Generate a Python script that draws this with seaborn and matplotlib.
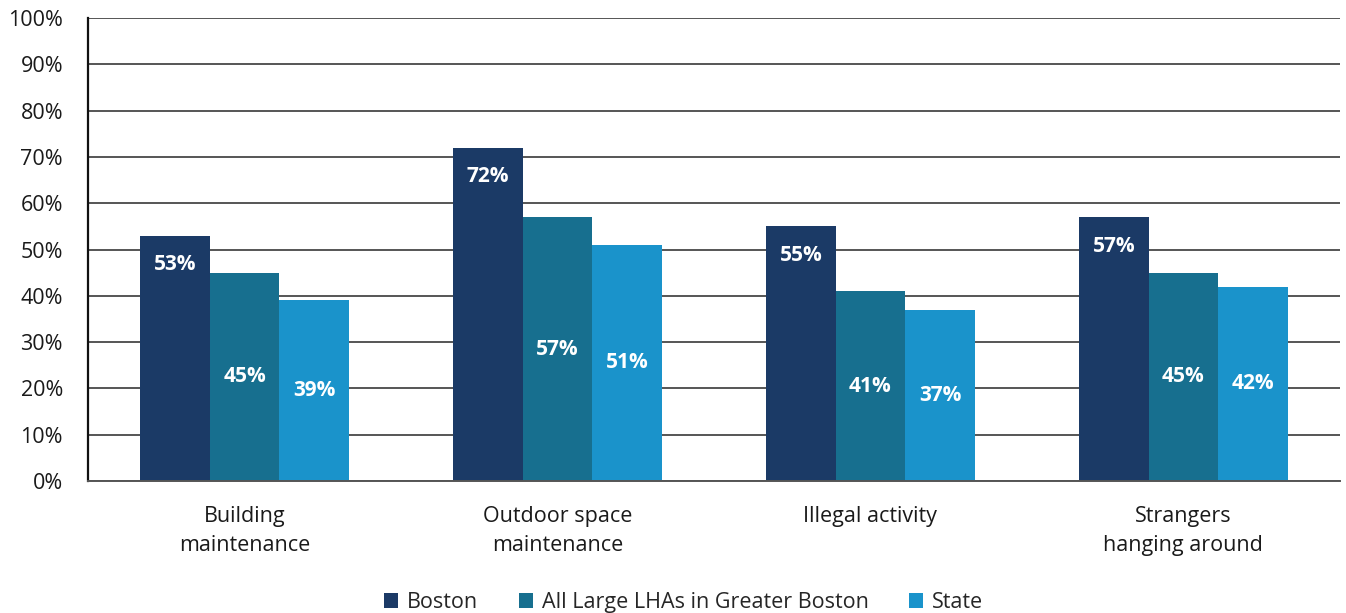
import matplotlib
matplotlib.use("Agg")
import matplotlib.pyplot as plt
from matplotlib.patches import Patch
import seaborn as sns
import pandas as pd

categories = ["Building\nmaintenance", "Outdoor space\nmaintenance",
              "Illegal activity", "Strangers\nhanging around"]
series = ["Boston", "All Large LHAs in Greater Boston", "State"]
boston = [53, 72, 55, 57]
large_lhas = [45, 57, 41, 45]
state = [39, 51, 37, 42]
y_ticks = [0, 10, 20, 30, 40, 50, 60, 70, 80, 90, 100]

colors = ["#1b3a66", "#176f8f", "#1a93cb"]

rows = []
for name, vals in zip(series, [boston, large_lhas, state]):
    for cat, v in zip(categories, vals):
        rows.append({"category": cat, "series": name, "value": v})
df = pd.DataFrame(rows)

sns.set_style("white")
plt.rcParams["font.family"] = ["Open Sans", "DejaVu Sans"]

fig = plt.figure(figsize=(13.46, 6.13), dpi=100)
ax = fig.add_axes([0.0654, 0.2153, 0.930, 0.7553])

sns.barplot(data=df, x="category", y="value", hue="series", order=categories,
            hue_order=series, palette=colors, width=0.667, saturation=1,
            linewidth=0, ax=ax, legend=False)

ax.set_xlim(-0.5, 3.5)
ax.set_ylim(0, 100)
ax.set_yticks(y_ticks)
ax.set_yticklabels([f"{t}%" for t in y_ticks], fontsize=15.5, color="#1a1a1a")
ax.yaxis.grid(True, color="#555555", linewidth=1.4)
ax.set_axisbelow(True)
ax.tick_params(axis="y", length=7, width=1.2, color="#333333", pad=11)

ax.set_xticks(range(len(categories)))
ax.set_xticklabels(categories, fontsize=15.5, color="#1a1a1a", linespacing=1.5)
ax.set_xticks([-0.5, 0.5, 1.5, 2.5, 3.5], minor=True)
ax.tick_params(axis="x", which="major", length=0, pad=18)
ax.tick_params(axis="x", which="minor", length=8, width=1.4, color="#333333",
               direction="out")
ax.set_xlabel("")
ax.set_ylabel("")

for side in ["top", "right"]:
    ax.spines[side].set_visible(False)
ax.spines["left"].set_color("#111111")
ax.spines["left"].set_linewidth(1.6)
ax.spines["bottom"].set_color("#555555")
ax.spines["bottom"].set_linewidth(1.4)

# value labels: first series near the bar top, the others centred in the bar
for i, container in enumerate(ax.containers):
    vals = [boston, large_lhas, state][i]
    for bar, v in zip(container.patches, vals):
        cx = bar.get_x() + bar.get_width() / 2
        y = v - 6.3 if i == 0 else v / 2
        ax.text(cx, y, f"{v}%", ha="center", va="center", color="white",
                fontsize=15, fontweight="bold")

handles = [Patch(facecolor=c, edgecolor="none") for c in colors]
fig.legend(handles, series, loc="lower center", bbox_to_anchor=(0.508, -0.032),
           ncol=3, frameon=False, fontsize=15.5, handlelength=0.65,
           handleheight=0.65, handletextpad=0.4, columnspacing=1.9)

fig.savefig("out.png", dpi=100)
